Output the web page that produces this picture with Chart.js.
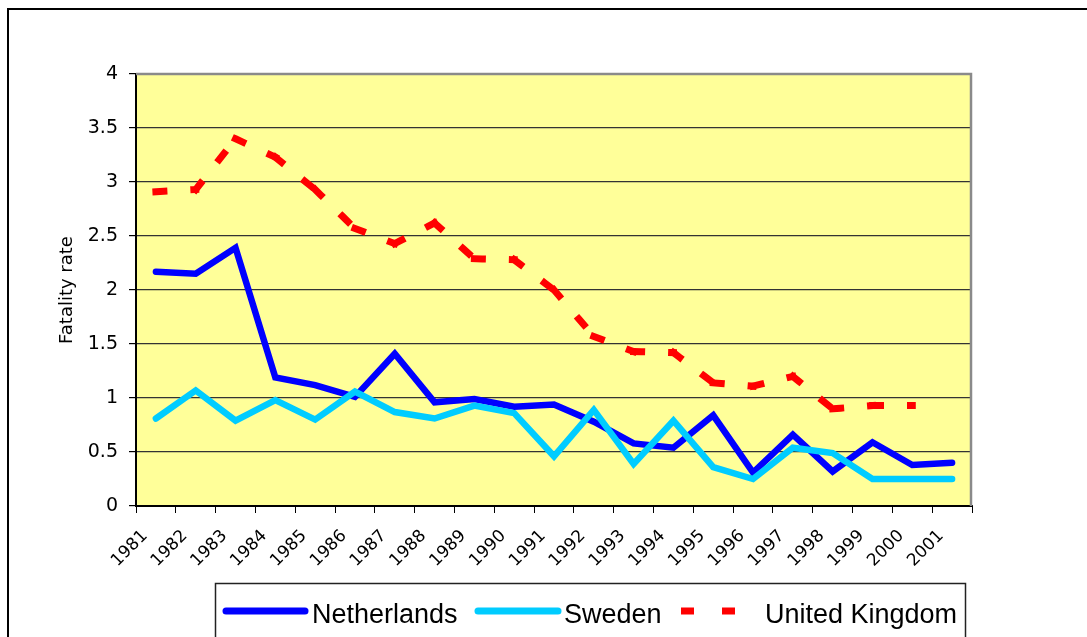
<!DOCTYPE html>
<html>
<head>
<meta charset="utf-8">
<script src="https://cdn.jsdelivr.net/npm/chart.js@4.4.0/dist/chart.umd.min.js"></script>
<style>
html,body{margin:0;padding:0;background:#fff;}
#wrap{width:1087px;height:637px;position:relative;}
</style>
</head>
<body>
<div id="wrap"><canvas id="c" width="1087" height="637"></canvas></div>
<script>
// ---- data ----
const years = ['1981','1982','1983','1984','1985','1986','1987','1988','1989','1990','1991',
               '1992','1993','1994','1995','1996','1997','1998','1999','2000','2001'];
const netherlands = [2.17, 2.15, 2.39, 1.19, 1.12, 1.01, 1.41, 0.96, 0.99, 0.92, 0.94,
                     0.78, 0.58, 0.54, 0.84, 0.31, 0.66, 0.32, 0.59, 0.38, 0.40];
const sweden      = [0.81, 1.07, 0.79, 0.98, 0.80, 1.06, 0.87, 0.81, 0.93, 0.86, 0.46,
                     0.89, 0.39, 0.79, 0.36, 0.25, 0.54, 0.49, 0.25, 0.25, 0.25];
const unitedKingdom = [2.91, 2.93, 3.40, 3.23, 2.93, 2.57, 2.43, 2.62, 2.29, 2.28, 2.00,
                       1.57, 1.43, 1.42, 1.14, 1.11, 1.20, 0.90, 0.93, 0.93, null];
const seriesNames = ['Netherlands', 'Sweden', 'United Kingdom'];
const yTickValues = [0, 0.5, 1, 1.5, 2, 2.5, 3, 3.5, 4];
const yTitle = 'Fatality rate';

const TICK_FONT = 'DejaVu Sans';

// background of plot area + outer frame
const framePlugin = {
  id: 'frame',
  beforeDraw(chart) {
    const {ctx, chartArea: a} = chart;
    ctx.save();
    ctx.fillStyle = '#ffffff';
    ctx.fillRect(0, 0, chart.width, chart.height);
    ctx.fillStyle = '#FFFF99';
    ctx.fillRect(a.left, a.top, a.right - a.left, a.bottom - a.top);
    ctx.strokeStyle = '#000';
    ctx.lineWidth = 2;
    ctx.strokeRect(8, 9, 1200, 800);
    ctx.restore();
  },
  afterDatasetsDraw(chart) {
    const {ctx, chartArea: a} = chart;
    ctx.save();
    ctx.strokeStyle = '#8a8a8a';
    ctx.lineWidth = 2.5;
    ctx.beginPath();
    ctx.moveTo(a.left, a.top);
    ctx.lineTo(a.right - 1, a.top);
    ctx.lineTo(a.right - 1, a.bottom);
    ctx.stroke();
    ctx.restore();
  }
};

// legend drawn from dataset properties
const legendPlugin = {
  id: 'boxLegend',
  afterDraw(chart) {
    const {ctx} = chart;
    ctx.save();
    ctx.strokeStyle = '#222';
    ctx.lineWidth = 1.5;
    ctx.strokeRect(215.5, 583.5, 750, 120);
    const items = [
      {x0: 226, x1: 305, tx: 312},
      {x0: 478, x1: 558, tx: 564},
      {x0: 681, x1: 738, tx: 765}
    ];
    const y = 611;
    chart.data.datasets.forEach((ds, i) => {
      const it = items[i];
      ctx.save();
      ctx.strokeStyle = ds.borderColor;
      ctx.lineWidth = 7;
      ctx.lineCap = ds.borderDash ? 'butt' : 'round';
      ctx.setLineDash(ds.borderDash ? [13, 28] : []);
      ctx.beginPath();
      ctx.moveTo(it.x0, y);
      ctx.lineTo(it.x1, y);
      ctx.stroke();
      ctx.restore();
      ctx.fillStyle = '#000';
      ctx.font = '27px "Liberation Sans", Arial, sans-serif';
      ctx.textBaseline = 'alphabetic';
      ctx.textAlign = 'left';
      ctx.fillText(ds.label, it.tx, 623);
    });
    ctx.restore();
  }
};

new Chart(document.getElementById('c'), {
  type: 'line',
  data: {
    labels: years,
    datasets: [
      {
        label: seriesNames[0], data: netherlands,
        borderColor: '#0000FF', backgroundColor: '#0000FF',
        borderWidth: 6.5, borderCapStyle: 'round', borderJoinStyle: 'miter',
        pointRadius: 0, tension: 0, order: 3
      },
      {
        label: seriesNames[1], data: sweden,
        borderColor: '#00CCFF', backgroundColor: '#00CCFF',
        borderWidth: 6.5, borderCapStyle: 'round', borderJoinStyle: 'miter',
        pointRadius: 0, tension: 0, order: 2
      },
      {
        label: seriesNames[2], data: unitedKingdom,
        borderColor: '#FF0000', backgroundColor: '#FF0000',
        borderWidth: 7, borderCapStyle: 'square', borderJoinStyle: 'miter',
        borderDash: [8, 30],
        segment: { borderDashOffset: c => (c.p0DataIndex % 2) ? 0.0001 : 0 },
        pointRadius: 0, tension: 0, spanGaps: false, order: 1
      }
    ]
  },
  options: {
    responsive: false,
    animation: false,
    devicePixelRatio: 1,
    layout: { padding: { top: 74, right: 115, left: 0, bottom: 0 } },
    plugins: { legend: { display: false }, tooltip: { enabled: false } },
    scales: {
      x: {
        type: 'category',
        offset: true,
        afterFit(s) { s.height = 131; },
        grid: { offset: true, drawOnChartArea: false, drawTicks: true, tickLength: 7, color: '#000', lineWidth: 1 },
        border: { display: true, color: '#000', width: 2 },
        ticks: {
          autoSkip: false, minRotation: 45, maxRotation: 45, padding: 13, labelOffset: -11,
          color: '#000', font: { family: TICK_FONT, size: 17 }
        }
      },
      y: {
        min: 0, max: 4,
        afterFit(s) { s.width = 136; },
        afterBuildTicks(s) { s.ticks = yTickValues.map(v => ({ value: v })); },
        grid: { color: '#333', lineWidth: 1.2, drawTicks: true, tickLength: 7, tickColor: '#000' },
        border: { display: true, color: '#000', width: 2 },
        ticks: {
          padding: 11, color: '#000', font: { family: TICK_FONT, size: 19 },
          callback: v => String(v)
        },
        title: {
          display: true, text: yTitle, color: '#000',
          font: { family: TICK_FONT, size: 18 },
          padding: { top: 57, bottom: 0 }
        }
      }
    }
  },
  plugins: [framePlugin, legendPlugin]
});
</script>
</body>
</html>
